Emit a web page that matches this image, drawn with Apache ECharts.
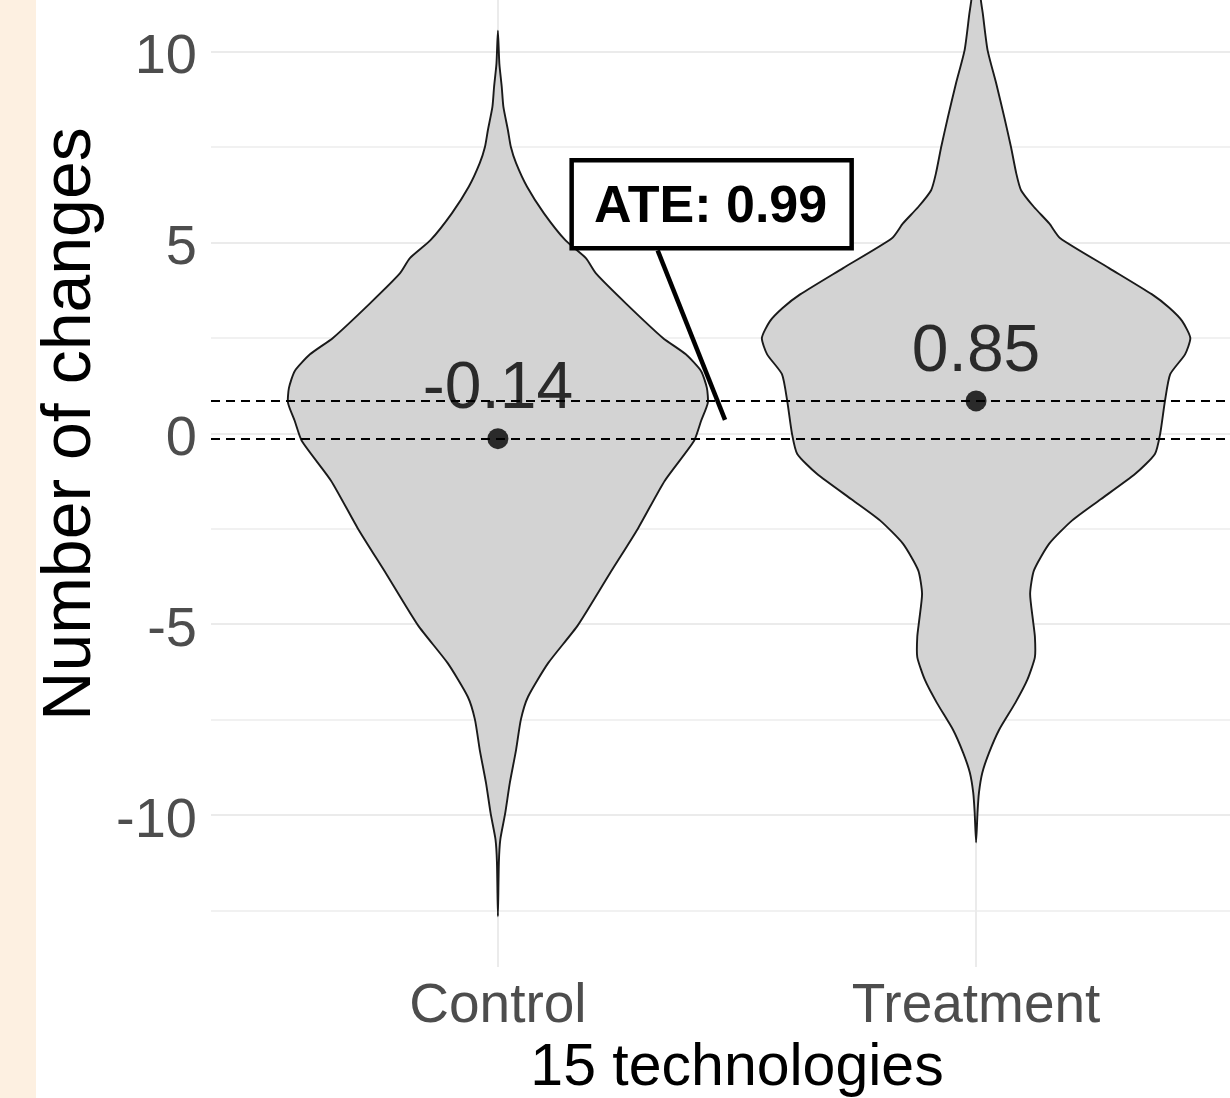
<!DOCTYPE html>
<html>
<head>
<meta charset="utf-8">
<script src="https://cdn.jsdelivr.net/npm/echarts@6/dist/echarts.min.js"></script>
<style>
  html, body { margin: 0; padding: 0; background: #ffffff; }
  #chart { width: 1230px; height: 1098px; }
</style>
</head>
<body>
<div id="chart"></div>
<script>
// ---------------- data ----------------
const categories = ['Control', 'Treatment'];
const groupMeans = [-0.14, 0.85];
const ateValue = 0.99;
const xTitle = '15 technologies';
const yTitle = 'Number of changes';
const yTickValues = [-10, -5, 0, 5, 10];
const yMinorValues = [-12.5, -7.5, -2.5, 2.5, 7.5];

// violin outlines: y value and half-width (x-axis units)
const controlY = [10.55, 9.69, 9.08, 8.55, 7.94, 7.51, 7.08, 6.46, 5.77, 5.06, 4.59, 4.19, 3.40, 2.5, 2.07, 1.63, 1.19, 0.80, 0.33, -0.2, -1.24, -2.49, -3.67, -5.03, -6.02, -6.9, -7.5, -8.29, -9.15, -9.97, -10.64, -11.24, -12.65];
const controlHalfWidth = [0, 0.003, 0.008, 0.0115, 0.021, 0.027, 0.038, 0.061, 0.096, 0.141, 0.184, 0.205, 0.268, 0.345, 0.393, 0.425, 0.437, 0.439, 0.425, 0.410, 0.349, 0.293, 0.234, 0.167, 0.105, 0.063, 0.048, 0.038, 0.025, 0.015, 0.005, 0.002, 0];

const treatmentY = [12.9, 12.0, 11.35, 11.0, 10.04, 9.17, 8.28, 7.50, 6.81, 6.37, 5.93, 5.50, 5.11, 4.33, 3.64, 3.29, 2.94, 2.5, 2.07, 1.55, 0.85, -0.01, -0.54, -1.06, -1.76, -2.28, -2.89, -3.59, -4.2, -4.9, -5.33, -5.86, -6.46, -7.06, -7.77, -8.37, -8.89, -9.41, -9.93, -10.72];
const treatmentHalfWidth = [0, 0.006, 0.010, 0.014, 0.024, 0.042, 0.059, 0.073, 0.084, 0.094, 0.121, 0.153, 0.176, 0.278, 0.368, 0.404, 0.431, 0.448, 0.437, 0.406, 0.395, 0.385, 0.374, 0.333, 0.257, 0.201, 0.153, 0.121, 0.113, 0.119, 0.123, 0.123, 0.107, 0.082, 0.048, 0.027, 0.013, 0.006, 0.003, 0];

// ---------------- chart ----------------
const profilesY = [controlY, treatmentY];
const profilesW = [controlHalfWidth, treatmentHalfWidth];
const FONT = "'Liberation Sans', Arial, Helvetica, sans-serif";

const chart = echarts.init(document.getElementById('chart'), null, { renderer: 'canvas' });

// annotation placement (style constants)
const ANN_LABEL = [1.447, 6.0];
const ANN_TIP_X = 1.475;

const option = {
  animation: false,
  backgroundColor: '#ffffff',
  graphic: [{
    type: 'rect', left: 0, top: 0, z: -10, silent: true,
    shape: { x: 0, y: 0, width: 36, height: 1098 },
    style: { fill: '#fdf0e1' }
  }],
  grid: { left: 211, right: -33, top: -119, bottom: 131, containLabel: false, outerBoundsMode: 'none' },
  xAxis: {
    type: 'value', min: 0.4, max: 2.6,
    axisLine: { show: false }, axisTick: { show: false }, splitLine: { show: false },
    axisLabel: {
      customValues: categories.map((c, i) => i + 1),
      formatter: v => categories[Math.round(v) - 1] || '',
      fontSize: 55, color: '#4d4d4d', fontFamily: FONT, margin: 12
    },
    name: xTitle, nameLocation: 'middle', nameGap: 72,
    nameTextStyle: { fontSize: 59, color: '#000000', fontFamily: FONT }
  },
  yAxis: {
    type: 'value', min: -13.98, max: 14.47,
    axisLine: { show: false }, axisTick: { show: false }, splitLine: { show: false },
    axisLabel: {
      customValues: yTickValues,
      fontSize: 56, color: '#4d4d4d', fontFamily: FONT, margin: 14,
      verticalAlign: 'top', lineHeight: 12
    },
    name: yTitle, nameLocation: 'middle', nameRotate: 90, nameGap: 98,
    nameTextStyle: { fontSize: 68, color: '#000000', fontFamily: FONT }
  },
  series: [
    {
      name: 'grid', type: 'line', data: [], z: 0, silent: true,
      markLine: {
        z: 0, silent: true, symbol: ['none', 'none'], animation: false,
        label: { show: false }, emphasis: { disabled: true },
        lineStyle: { color: '#ebebeb', width: 2, type: 'solid' },
        data: [
          ...yTickValues.map(v => ({ yAxis: v })),
          ...yMinorValues.map(v => ({ yAxis: v, lineStyle: { color: '#ededed', width: 1.5, type: 'solid' } })),
          ...categories.map((c, i) => ({ xAxis: i + 1 }))
        ]
      }
    },
    {
      name: 'violin', type: 'custom', z: 2, clip: true, silent: true,
      data: categories.map((c, i) => [i + 1]),
      encode: { x: 0 },
      renderItem: function (params, api) {
        const idx = params.dataIndex;
        const cx = api.value(0);
        const ys = profilesY[idx], ws = profilesW[idx];
        const pts = [];
        for (let k = 0; k < ys.length; k++) pts.push(api.coord([cx + ws[k], ys[k]]));
        for (let k = ys.length - 2; k >= 1; k--) pts.push(api.coord([cx - ws[k], ys[k]]));
        return {
          type: 'polygon',
          shape: { points: pts, smooth: 0.2 },
          style: { fill: '#d3d3d3', stroke: '#1a1a1a', lineWidth: 1.9 }
        };
      }
    },
    {
      name: 'meanLines', type: 'line', data: [], z: 3, silent: true,
      markLine: {
        z: 3, silent: true, symbol: ['none', 'none'], animation: false,
        label: { show: false }, emphasis: { disabled: true },
        lineStyle: { color: '#000000', width: 2, type: [9, 6] },
        data: groupMeans.map(v => ({ yAxis: v }))
      }
    },
    {
      name: 'means', type: 'scatter', z: 4, silent: true,
      symbol: 'circle', symbolSize: 21,
      itemStyle: { color: '#000000' },
      data: categories.map((c, i) => [i + 1, groupMeans[i]]),
      label: {
        show: true, position: 'top', distance: 5,
        formatter: p => p.value[1].toFixed(2),
        fontSize: 66, color: '#000000', fontFamily: FONT
      }
    },
    {
      name: 'ate', type: 'custom', z: 5, silent: true, clip: false,
      data: [[ateValue]],
      renderItem: function (params, api) {
        const c = api.coord(ANN_LABEL);
        const midY = (groupMeans[0] + groupMeans[1]) / 2;
        const tip = api.coord([ANN_TIP_X, midY]);
        const w = 280, h = 88;
        const start = [c[0] - 54, c[1] + h / 2 + 2];
        return {
          type: 'group',
          children: [
            { type: 'line', shape: { x1: start[0], y1: start[1], x2: tip[0], y2: tip[1] },
              style: { stroke: '#000000', lineWidth: 4.5 } },
            { type: 'rect', shape: { x: c[0] - w / 2, y: c[1] - h / 2, width: w, height: h },
              style: { fill: '#ffffff', stroke: '#000000', lineWidth: 4.5 } },
            { type: 'text',
              style: { x: c[0] - 1, y: c[1] + 3, text: 'ATE: ' + api.value(0).toFixed(2),
                       fill: '#000000', fontSize: 52, fontWeight: 'bold', fontFamily: FONT,
                       align: 'center', verticalAlign: 'middle' } }
          ]
        };
      }
    }
  ]
};
chart.setOption(option);
</script>
</body>
</html>
